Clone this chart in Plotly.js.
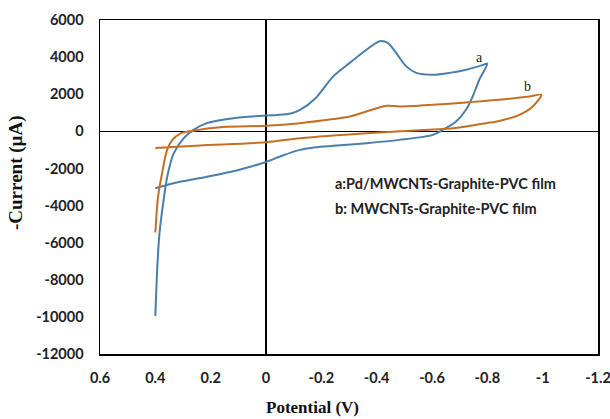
<!DOCTYPE html>
<html>
<head>
<meta charset="utf-8">
<script src="https://cdn.plot.ly/plotly-3.0.1.min.js"></script>
<style>html,body{margin:0;padding:0;background:#fff;}#chart{width:610px;height:419px;}</style>
</head>
<body>
<div id="chart"></div>
<script>
// Curve a: Pd/MWCNTs-Graphite-PVC film (potential in V, current in µA)
const potentialA = [0.40, 0.334, 0.214, 0.118, 0.06, 0, -0.06, -0.123, -0.18, -0.243, -0.363, -0.483, -0.603, -0.639, -0.687, -0.723, -0.747, -0.771, -0.80,
  -0.789, -0.723, -0.663, -0.603, -0.543, -0.507, -0.47, -0.44, -0.411, -0.363, -0.303, -0.243, -0.18, -0.123, -0.09, -0.04, 0, 0.118, 0.214, 0.262, 0.298, 0.334, 0.357, 0.37, 0.385, 0.393, 0.40];
const currentA = [-3070, -2800, -2450, -2150, -1920, -1650, -1300, -1000, -860, -780, -640, -460, -190, 80, 530, 1160, 1880, 2780, 3650,
  3600, 3320, 3150, 3050, 3150, 3500, 4230, 4770, 4860, 4400, 3690, 2960, 1800, 1150, 960, 880, 850, 710, 440, 80, -380, -1200, -2450, -3700, -5500, -7350, -9950];

// Curve b: MWCNTs-Graphite-PVC film
const potentialB = [0.40, 0.238, 0, -0.123, -0.363, -0.639, -0.676, -0.723, -0.796, -0.843, -0.916, -0.964, -0.995,
  -0.951, -0.843, -0.723, -0.603, -0.483, -0.435, -0.363, -0.303, -0.243, -0.123, 0, 0.155, 0.268, 0.31, 0.34, 0.358, 0.376, 0.39, 0.40];
const currentB = [-900, -760, -590, -370, -100, 120, 170, 260, 440, 560, 890, 1340, 1970,
  1880, 1700, 1560, 1430, 1340, 1380, 1070, 800, 660, 440, 300, 230, 20, -120, -490, -1030, -2290, -3500, -5450];

const xTickVals = [0.6, 0.4, 0.2, 0, -0.2, -0.4, -0.6, -0.8, -1, -1.2];
const xTickText = ["0.6", "0.4", "0.2", "0", "-0.2", "-0.4", "-0.6", "-0.8", "-1", "-1.2"];
const yTickVals = [6000, 4000, 2000, 0, -2000, -4000, -6000, -8000, -10000, -12000];
const yTickText = ["6000", "4000", "2000", "0", "-2000", "-4000", "-6000", "-8000", "-10000", "-12000"];

const tickFont = {family: "Lato, 'Open Sans', sans-serif", size: 14.5, color: "#222", weight: 700};
const serif = "'Liberation Serif', 'DejaVu Serif', serif";
const sans = "Lato, 'Open Sans', sans-serif";

const traces = [
  {x: potentialA, y: currentA, mode: "lines", line: {color: "#4a7eab", width: 2, shape: "spline", smoothing: 0.8}, name: "a", hoverinfo: "none"},
  {x: potentialB, y: currentB, mode: "lines", line: {color: "#c46f24", width: 2, shape: "spline", smoothing: 0.8}, name: "b", hoverinfo: "none"}
];

const layout = {
  width: 610, height: 419,
  margin: {l: 100, r: 12, t: 20, b: 65},
  paper_bgcolor: "#fff", plot_bgcolor: "#fff",
  showlegend: false,
  xaxis: {
    range: [0.6, -1.2], autorange: false,
    tickvals: xTickVals, ticktext: xTickText,
    showgrid: false, zeroline: true, zerolinecolor: "#000", zerolinewidth: 1.5,
    showline: true, linecolor: "#000", linewidth: 1.5, mirror: true,
    ticks: "", tickfont: tickFont, ticklabelstandoff: 10, ticklabeloverflow: "allow"
  },
  yaxis: {
    range: [-12000, 6000], autorange: false,
    tickvals: yTickVals, ticktext: yTickText,
    showgrid: false, zeroline: true, zerolinecolor: "#000", zerolinewidth: 1.5,
    showline: true, linecolor: "#000", linewidth: 1.5, mirror: true,
    ticks: "", tickfont: tickFont, ticklabelstandoff: 12, ticklabeloverflow: "allow"
  },
  annotations: [
    {xref: "paper", yref: "paper", x: (312 - 100) / 498, y: (354 - 407) / 334, text: "<b>Potential (V)</b>", showarrow: false,
     font: {family: serif, size: 17, color: "#111"}, xanchor: "center", yanchor: "middle"},
    {xref: "paper", yref: "paper", x: (16 - 100) / 498, y: (354 - 173) / 334, text: "<b>-Current (µA)</b>", showarrow: false, textangle: -90,
     font: {family: serif, size: 19, color: "#111"}, xanchor: "center", yanchor: "middle"},
    {xref: "x", yref: "y", x: -0.77, y: 4000, text: "a", showarrow: false, font: {family: serif, size: 14, color: "#222"}, yanchor: "middle"},
    {xref: "x", yref: "y", x: -0.945, y: 2400, text: "b", showarrow: false, font: {family: serif, size: 14, color: "#222"}, yanchor: "middle"},
    {xref: "paper", yref: "paper", x: (333 - 100) / 498, y: (354 - 183) / 334, text: "<b>a:Pd/MWCNTs-Graphite-PVC film</b>", showarrow: false,
     xanchor: "left", yanchor: "middle", font: {family: sans, size: 14.5, color: "#222"}},
    {xref: "paper", yref: "paper", x: (333 - 100) / 498, y: (354 - 208) / 334, text: "<b>b: MWCNTs-Graphite-PVC film</b>", showarrow: false,
     xanchor: "left", yanchor: "middle", font: {family: sans, size: 14.5, color: "#222"}}
  ]
};

Plotly.newPlot("chart", traces, layout, {staticPlot: true, displayModeBar: false});
</script>
</body>
</html>
